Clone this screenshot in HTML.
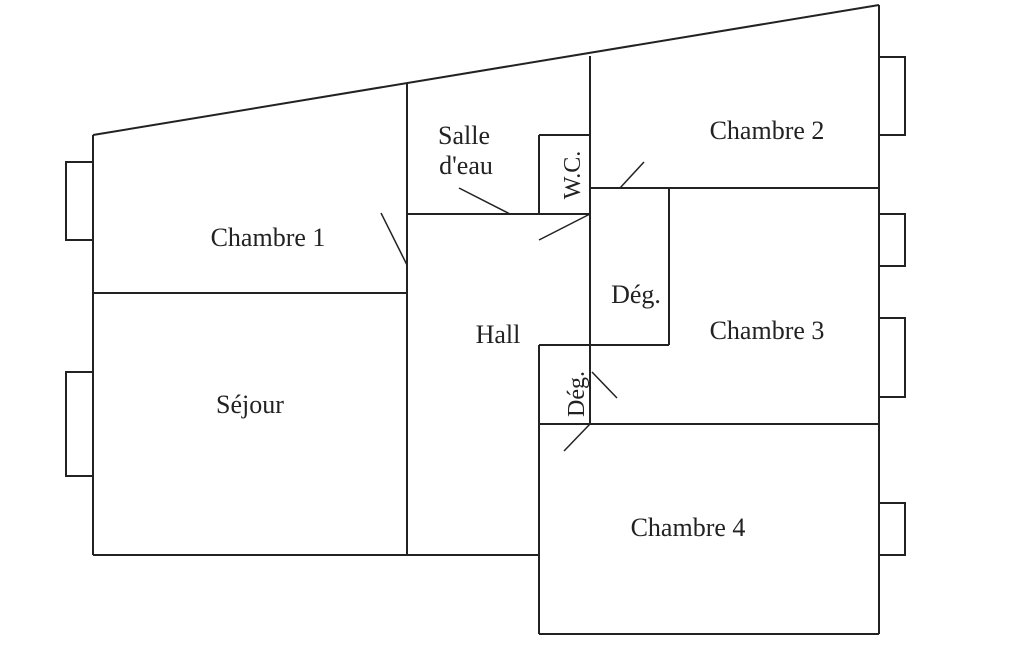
<!DOCTYPE html>
<html><head><style>
html,body{margin:0;padding:0;background:#fff;}
svg{display:block;}
text{font-family:"Liberation Serif",serif;font-size:26px;fill:#222;}
</style></head><body>
<svg width="1025" height="650" viewBox="0 0 1025 650" xmlns="http://www.w3.org/2000/svg">
<g stroke="#222" stroke-width="2" fill="none">
<line x1="93" y1="135" x2="879" y2="5"/>
<line x1="879" y1="5" x2="879" y2="634"/>
<line x1="93" y1="135" x2="93" y2="555"/>
<line x1="93" y1="555" x2="539" y2="555"/>
<line x1="539" y1="345" x2="539" y2="634"/>
<line x1="539" y1="634" x2="879" y2="634"/>
<line x1="93" y1="293" x2="407" y2="293"/>
<line x1="407" y1="83" x2="407" y2="555"/>
<line x1="407" y1="214" x2="590" y2="214"/>
<line x1="539" y1="135" x2="539" y2="214"/>
<line x1="539" y1="135" x2="590" y2="135"/>
<line x1="590" y1="56" x2="590" y2="424"/>
<line x1="590" y1="188" x2="879" y2="188"/>
<line x1="669" y1="188" x2="669" y2="345"/>
<line x1="539" y1="345" x2="669" y2="345"/>
<line x1="539" y1="424" x2="879" y2="424"/>
<polyline points="879,57 905,57 905,135 879,135"/>
<polyline points="879,214 905,214 905,266 879,266"/>
<polyline points="879,318 905,318 905,397 879,397"/>
<polyline points="879,503 905,503 905,555 879,555"/>
<polyline points="93,162 66,162 66,240 93,240"/>
<polyline points="93,372 66,372 66,476 93,476"/>
<g stroke-width="1.5">
<line x1="381" y1="213" x2="407" y2="265"/>
<line x1="459" y1="188" x2="510" y2="214"/>
<line x1="539" y1="240" x2="590" y2="214"/>
<line x1="620" y1="188" x2="644" y2="162"/>
<line x1="592" y1="372" x2="617" y2="398"/>
<line x1="564" y1="451" x2="590" y2="424"/>
</g>
</g>
<text x="268" y="246" text-anchor="middle">Chambre 1</text>
<text x="464" y="144" text-anchor="middle">Salle</text>
<text x="466" y="174" text-anchor="middle">d'eau</text>
<text x="767" y="139" text-anchor="middle">Chambre 2</text>
<text x="636" y="303" text-anchor="middle">Dég.</text>
<text x="498" y="343" text-anchor="middle">Hall</text>
<text x="767" y="339" text-anchor="middle">Chambre 3</text>
<text x="250" y="413" text-anchor="middle">Séjour</text>
<text x="688" y="536" text-anchor="middle">Chambre 4</text>
<text transform="translate(580,175) rotate(-90)" text-anchor="middle" style="font-size:24px">W.C.</text>
<text transform="translate(584,394) rotate(-90)" text-anchor="middle" style="font-size:24px">Dég.</text>
</svg>
</body></html>
